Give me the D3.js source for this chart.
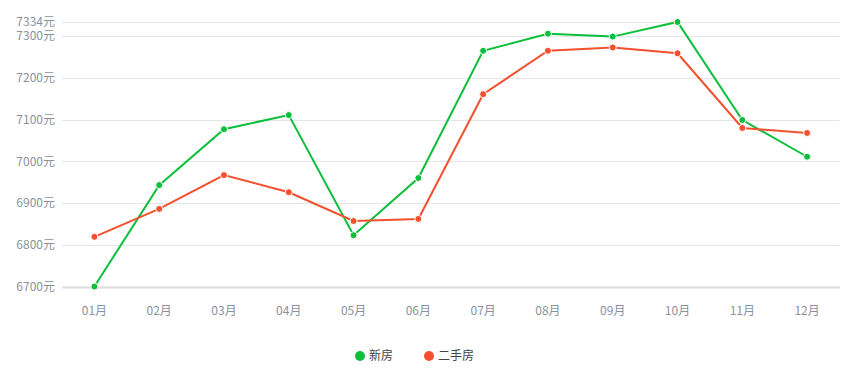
<!DOCTYPE html>
<html><head><meta charset="utf-8">
<script src="https://cdn.jsdelivr.net/npm/d3@7"></script>
<style>body{margin:0;background:#fff;font-family:"Noto Sans CJK SC","Noto Sans",sans-serif;}</style>
</head><body><svg id="c" width="841" height="369"></svg>
<script>
const months = ["01月","02月","03月","04月","05月","06月","07月","08月","09月","10月","11月","12月"];
const newHouse = [6700,6943,7077,7111,6823,6960,7265,7306,7299,7334,7099,7011];
const secondHand = [6819,6886,6967,6926,6857,6862,7161,7265,7273,7259,7080,7068];
const yTicks = [6700,6800,6900,7000,7100,7200,7300,7334];
const seriesNames = ["新房","二手房"];
const colors = ["#0cbf3b","#f5502e"];

const svg = d3.select("#c");
const x = d3.scaleBand().domain(months).range([62,839.5]);
const y = d3.scaleLinear().domain([6700,7334]).range([286.5,22]);

// grid
svg.append("g").selectAll("line").data(yTicks.filter(d=>d!==6700)).join("line")
  .attr("x1",62).attr("x2",839.5).attr("y1",d=>Math.round(y(d))+0.5).attr("y2",d=>Math.round(y(d))+0.5)
  .attr("stroke","#e6e6e6").attr("stroke-width",1);
// y labels
svg.append("g").selectAll("text").data(yTicks).join("text")
  .attr("x",55).attr("y",d=>y(d)).attr("dy","0.35em").attr("text-anchor","end")
  .attr("fill","#8a929e").attr("font-size",12).text(d=>d+"元");
// x axis
const xa = svg.append("g").attr("transform","translate(0,287)")
  .call(d3.axisBottom(x).tickSize(0).tickPadding(19));
xa.select(".domain").attr("stroke","#dcdcdc").attr("stroke-width",2);
xa.selectAll("text").attr("fill","#8a929e").attr("font-size",12).attr("font-family","\"Noto Sans CJK SC\",sans-serif");

const cx = d=>x(d)+x.bandwidth()/2;
[newHouse, secondHand].forEach((vals,i)=>{
  const data = months.map((m,j)=>({m,v:vals[j]}));
  svg.append("path").datum(data)
    .attr("fill","none").attr("stroke",colors[i]).attr("stroke-width",2)
    .attr("d",d3.line().x(d=>cx(d.m)).y(d=>y(d.v)));
  svg.append("g").selectAll("circle").data(data).join("circle")
    .attr("cx",d=>cx(d.m)).attr("cy",d=>y(d.v)).attr("r",3.5)
    .attr("fill",colors[i]).attr("stroke","#fff").attr("stroke-width",1);
});

// legend
const lg = svg.append("g");
const lx = [360,429];
seriesNames.forEach((n,i)=>{
  lg.append("circle").attr("cx",lx[i]).attr("cy",356).attr("r",5).attr("fill",colors[i]);
  lg.append("text").attr("x",lx[i]+9).attr("y",356).attr("dy","0.35em")
    .attr("font-size",12).attr("fill","#444").text(n);
});
</script></body></html>
